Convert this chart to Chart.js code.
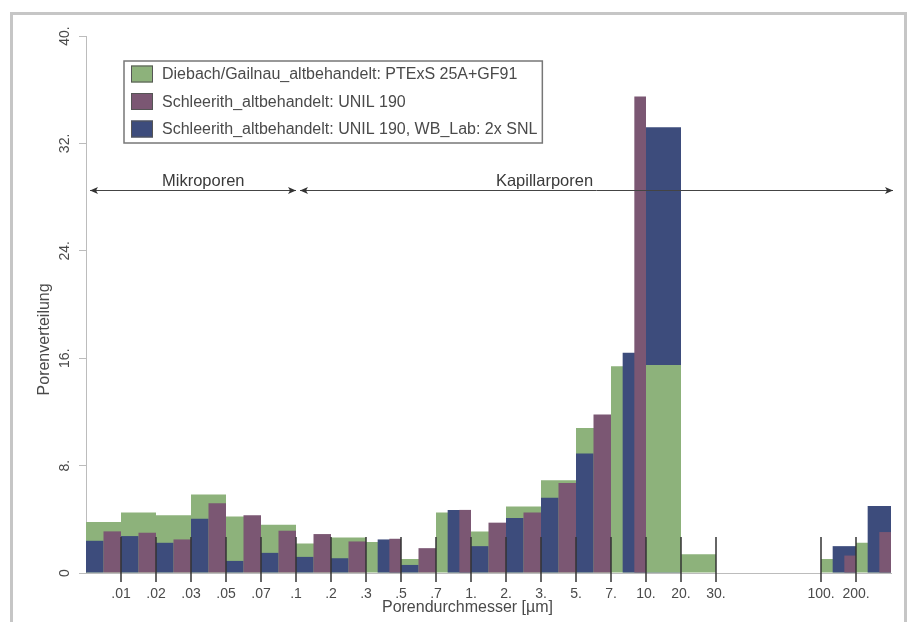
<!DOCTYPE html>
<html lang="de">
<head>
<meta charset="UTF-8">
<title>Porenverteilung</title>
<script src="https://cdn.jsdelivr.net/npm/chart.js@4"></script>
<style>
  html, body { margin: 0; padding: 0; background: #fff; }
  #wrap { position: relative; width: 913px; height: 622px; overflow: hidden; }
  #frame { position: absolute; left: 10px; top: 12px; width: 897px; height: 700px;
           border: 3px solid #c6c6c6; box-sizing: border-box; pointer-events: none; }
  canvas { position: absolute; left: 0; top: 0; }
</style>
</head>
<body>
<div id="wrap">
  <div id="frame"></div>
  <canvas id="chart" width="913" height="622"></canvas>
</div>

<script>
// pore size classes (one bar group per class)
const bins = ['<.01', '.01-.02', '.02-.03', '.03-.05', '.05-.07', '.07-.1', '.1-.2', '.2-.3',
              '.3-.5', '.5-.7', '.7-1', '1-2', '2-3', '3-5', '5-7', '7-10', '10-20', '20-30',
              '30-50', '50-70', '70-100', '100-200', '>200'];
// labels at the class boundaries (0 .. bins.length)
const tickLabels = ['', '.01', '.02', '.03', '.05', '.07', '.1', '.2', '.3', '.5', '.7', '1.', '2.',
                    '3.', '5.', '7.', '10.', '20.', '30.', '', '', '100.', '200.', ''];
const yTicks = [0, 8, 16, 24, 32, 40];
const yTickLabels = ['0', '8.', '16.', '24.', '32.', '40.'];

const seriesNames = [
  'Diebach/Gailnau_altbehandelt: PTExS 25A+GF91',
  'Schleerith_altbehandelt: UNIL 190',
  'Schleerith_altbehandelt: UNIL 190, WB_Lab: 2x SNL'
];
const diebach = [3.8, 4.5, 4.3, 5.85, 4.2, 3.6, 2.2, 2.65, 2.3, 1.05, 4.5, 3.1, 4.95, 6.9, 10.8,
                 15.4, 15.5, 1.4, null, null, null, 1.05, 2.25];
const schleerith = [3.1, 3.0, 2.5, 5.2, 4.3, 3.15, 2.9, 2.35, 2.55, 1.85, 4.7, 3.75, 4.5, 6.7, 11.8,
                    35.5, null, null, null, null, null, 1.3, 3.05];
const schleerithSnl = [2.4, 2.75, 2.25, 4.05, 0.9, 1.5, 1.2, 1.1, 2.5, 0.6, 4.7, 2.0, 4.1, 5.6, 8.9,
                       16.4, 33.2, null, null, null, null, 2.0, 5.0];

// pore regions marked with arrows above the bars
const zones = [
  { label: 'Mikroporen', from: 0, to: 6, textAt: 3.35 },
  { label: 'Kapillarporen', from: 6, to: 23, textAt: 13.1 }
];
const zoneLevel = 28.5;

const colors = ['#8db27b', '#7b5773', '#3d4c7c'];
const FONT = '"Liberation Sans", Arial, sans-serif';
const TEXT = '#4a4a4a';
const AXIS = '#bcbcbc';

Chart.defaults.font.family = FONT;
Chart.defaults.color = TEXT;

// overlapping bars: green behind the whole class, the other two split it
const porenPlugin = {
  id: 'poren',
  beforeDatasetsDraw(chart) {
    const ctx = chart.ctx;
    const xs = chart.scales.x;
    const n = bins.length;
    const w = (xs.right - xs.left) / n;
    const metas = [0, 1, 2].map(i => chart.getDatasetMeta(i));
    const vals = chart.data.datasets.map(d => d.data);

    ctx.save();
    for (let i = 0; i < n; i++) {
      const g = vals[0][i], p = vals[1][i], b = vals[2][i];
      let parts;
      if (g && p && b && g < p && g < b) {
        parts = [[0, 0, 1], [2, 1 / 3, 1], [1, 2 / 3, 1]];
      } else if (p && b) {
        parts = [[0, 0, 1], [2, 0, 0.5], [1, 0.5, 1]];
      } else {
        parts = [[0, 0, 1], [1, 0, 1], [2, 0, 1]]
          .sort((u, v) => (vals[v[0]][i] || 0) - (vals[u[0]][i] || 0));
      }
      const left = xs.getPixelForValue(i) - w / 2;
      parts.forEach(([d, f0, f1]) => {
        if (!vals[d][i]) return;
        const el = metas[d].data[i];
        el.x = left + w * (f0 + f1) / 2;
        el.width = w * (f1 - f0);
        el.draw(ctx, chart.chartArea);
      });
    }
    ctx.restore();
    return false;
  },
  afterDraw(chart) {
    const { ctx, chartArea: a, scales: { x2, y } } = chart;
    ctx.save();

    // class boundary marks crossing the axis
    ctx.strokeStyle = '#333';
    ctx.lineWidth = 1.5;
    tickLabels.forEach((t, k) => {
      if (!t) return;
      const px = x2.getPixelForValue(k);
      ctx.beginPath();
      ctx.moveTo(px, a.bottom - 36);
      ctx.lineTo(px, a.bottom + 9);
      ctx.stroke();
    });

    // zone arrows
    const yy = Math.round(y.getPixelForValue(zoneLevel)) + 0.5;
    ctx.strokeStyle = '#444';
    ctx.fillStyle = '#333';
    ctx.lineWidth = 1;
    const head = (x, dir) => {
      ctx.beginPath();
      ctx.moveTo(x, yy);
      ctx.lineTo(x - dir * 8, yy - 3.5);
      ctx.lineTo(x - dir * 6, yy);
      ctx.lineTo(x - dir * 8, yy + 3.5);
      ctx.closePath();
      ctx.fill();
    };
    zones.forEach(z => {
      const x0 = x2.getPixelForValue(z.from) + 4;
      const x1 = x2.getPixelForValue(z.to) + (z.to === bins.length ? 2 : 0);
      ctx.beginPath();
      ctx.moveTo(x0, yy);
      ctx.lineTo(x1, yy);
      ctx.stroke();
      head(x0, -1);
      head(x1, 1);
      ctx.font = '16.5px ' + FONT;
      ctx.textAlign = 'center';
      ctx.textBaseline = 'alphabetic';
      ctx.fillStyle = '#3a3a3a';
      ctx.fillText(z.label, x2.getPixelForValue(z.textAt), yy - 5);
      ctx.fillStyle = '#333';
    });

    // legend box inside the plot
    ctx.font = '16px ' + FONT;
    const ds = chart.data.datasets;
    const lx = a.left + 38, ly = a.top + 25;
    const tw = Math.max(...ds.map(d => ctx.measureText(d.label).width));
    const bw = tw + 43, bh = 82;
    ctx.fillStyle = '#fff';
    ctx.fillRect(lx, ly, bw, bh);
    ctx.strokeStyle = '#777';
    ctx.lineWidth = 1.5;
    ctx.strokeRect(lx, ly, bw, bh);
    ds.forEach((d, i) => {
      const cy = ly + 13 + i * 27.5;
      ctx.fillStyle = d.backgroundColor;
      ctx.fillRect(lx + 7, cy - 8.5, 22, 17);
      ctx.strokeStyle = '#555';
      ctx.lineWidth = 1;
      ctx.strokeRect(lx + 7.5, cy - 8, 21, 16);
      ctx.fillStyle = TEXT;
      ctx.textAlign = 'left';
      ctx.textBaseline = 'middle';
      ctx.fillText(d.label, lx + 38, cy + 1);
    });

    // axis titles
    ctx.fillStyle = TEXT;
    ctx.font = '16px ' + FONT;
    ctx.textAlign = 'center';
    ctx.textBaseline = 'middle';
    ctx.fillText('Porendurchmesser [µm]', x2.getPixelForValue(10.9), a.bottom + 35);
    ctx.translate(45, y.getPixelForValue(17.4));
    ctx.rotate(-Math.PI / 2);
    ctx.fillText('Porenverteilung', 0, 0);

    ctx.restore();
  }
};

new Chart(document.getElementById('chart'), {
  type: 'bar',
  data: {
    labels: bins,
    datasets: [
      { label: seriesNames[0], data: diebach, backgroundColor: colors[0] },
      { label: seriesNames[1], data: schleerith, backgroundColor: colors[1] },
      { label: seriesNames[2], data: schleerithSnl, backgroundColor: colors[2] }
    ].map(d => Object.assign(d, { xAxisID: 'x', yAxisID: 'y', borderWidth: 0 }))
  },
  options: {
    responsive: false,
    animation: false,
    devicePixelRatio: 1,
    layout: { padding: { top: 36, right: 22, left: 0, bottom: 0 } },
    plugins: { legend: { display: false }, tooltip: { enabled: false } },
    scales: {
      x: { type: 'category', display: false, offset: true, grid: { display: false } },
      x2: {
        type: 'linear',
        position: 'bottom',
        offset: false,
        min: 0,
        max: bins.length,
        ticks: {
          stepSize: 1,
          autoSkip: false,
          maxRotation: 0,
          padding: 13,
          font: { size: 14 },
          color: TEXT,
          callback: v => tickLabels[v]
        },
        grid: { display: false, drawTicks: false, offset: false },
        border: { color: AXIS },
        afterFit: s => { s.height = 49; }
      },
      y: {
        min: 0,
        max: 40,
        afterBuildTicks: s => { s.ticks = yTicks.map(v => ({ value: v })); },
        ticks: {
          minRotation: 90,
          maxRotation: 90,
          crossAlign: 'center',
          padding: 4,
          font: { size: 14 },
          color: TEXT,
          callback: v => yTickLabels[yTicks.indexOf(v)]
        },
        grid: { drawOnChartArea: false, tickLength: 7, color: AXIS },
        border: { color: AXIS },
        afterFit: s => { s.width = 86; }
      }
    }
  },
  plugins: [porenPlugin]
});
</script>
</body>
</html>
